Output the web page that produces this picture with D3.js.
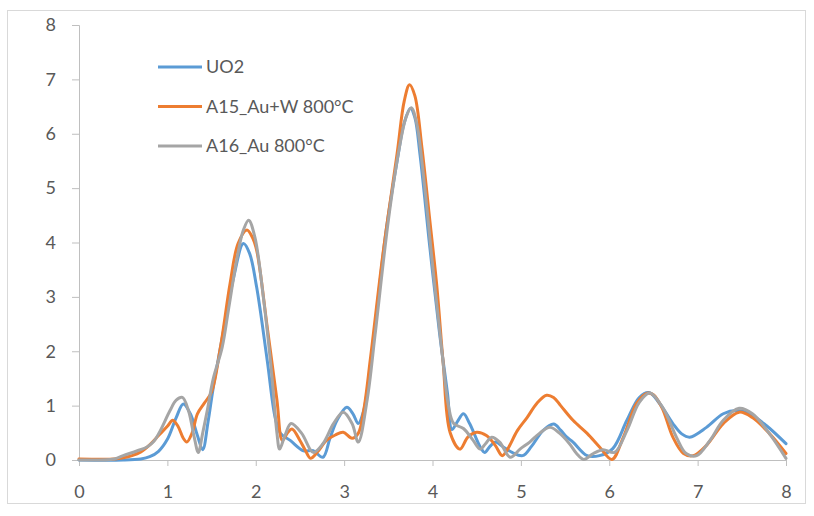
<!DOCTYPE html>
<html>
<head>
<meta charset="utf-8">
<script src="https://cdn.jsdelivr.net/npm/d3@7"></script>
<style>
  body { margin: 0; background: #fff; }
  svg text { font-family: Lato, "Liberation Sans", sans-serif; fill: #595959; }
</style>
</head>
<body>
<div id="chart"></div>
<script>
// [r, value] pairs
const uo2 = [[0,0],[0.5,0],[0.7,0.02],[0.8,0.06],[0.9,0.16],[1.0,0.38],[1.1,0.78],[1.18,1.03],[1.26,0.85],[1.34,0.45],[1.40,0.19],[1.46,0.7],[1.52,1.34],[1.63,2.33],[1.75,3.36],[1.86,3.98],[1.93,3.8],[2.01,3.18],[2.13,1.83],[2.22,0.78],[2.28,0.49],[2.39,0.36],[2.54,0.17],[2.65,0.17],[2.76,0.05],[2.84,0.4],[2.92,0.73],[3.03,0.97],[3.1,0.85],[3.16,0.67],[3.22,0.9],[3.29,1.6],[3.38,2.9],[3.48,4.28],[3.6,5.5],[3.68,6.2],[3.75,6.47],[3.8,6.3],[3.86,5.6],[3.97,3.91],[4.08,2.33],[4.17,1.22],[4.22,0.56],[4.28,0.7],[4.35,0.85],[4.42,0.67],[4.54,0.24],[4.59,0.14],[4.65,0.25],[4.71,0.33],[4.8,0.24],[4.9,0.14],[5.02,0.08],[5.12,0.25],[5.25,0.54],[5.37,0.66],[5.45,0.55],[5.52,0.42],[5.59,0.33],[5.75,0.08],[5.89,0.08],[6.04,0.21],[6.2,0.73],[6.34,1.15],[6.45,1.24],[6.57,1.04],[6.72,0.67],[6.82,0.48],[6.91,0.42],[7.1,0.6],[7.29,0.85],[7.44,0.91],[7.59,0.85],[7.78,0.63],[8,0.3]]

const a15 = [[0,0.02],[0.4,0.02],[0.5,0.04],[0.6,0.08],[0.7,0.15],[0.8,0.28],[0.9,0.45],[1.0,0.62],[1.06,0.73],[1.12,0.62],[1.18,0.4],[1.22,0.33],[1.28,0.5],[1.34,0.85],[1.42,1.05],[1.5,1.25],[1.6,2.07],[1.71,3.25],[1.8,3.98],[1.9,4.23],[1.96,4.1],[2.01,3.86],[2.13,2.44],[2.24,1.1],[2.3,0.36],[2.36,0.5],[2.41,0.57],[2.5,0.36],[2.56,0.18],[2.62,0.03],[2.7,0.15],[2.8,0.36],[2.9,0.46],[2.99,0.51],[3.09,0.4],[3.16,0.49],[3.22,0.9],[3.3,1.9],[3.44,3.8],[3.6,5.64],[3.68,6.6],[3.74,6.9],[3.8,6.7],[3.88,5.75],[3.97,4.4],[4.05,3.18],[4.12,1.8],[4.2,0.5],[4.31,0.2],[4.4,0.42],[4.5,0.51],[4.61,0.45],[4.71,0.27],[4.79,0.08],[4.85,0.2],[4.96,0.54],[5.07,0.78],[5.18,1.04],[5.29,1.19],[5.37,1.15],[5.45,1.0],[5.59,0.73],[5.75,0.49],[5.89,0.24],[6.03,0.01],[6.16,0.42],[6.31,1.04],[6.43,1.23],[6.5,1.2],[6.6,0.95],[6.72,0.42],[6.84,0.12],[6.95,0.08],[7.1,0.27],[7.29,0.67],[7.47,0.88],[7.62,0.78],[7.81,0.49],[8,0.12]]

const a16 = [[0,0],[0.4,0.02],[0.5,0.08],[0.66,0.17],[0.77,0.24],[0.85,0.35],[0.92,0.54],[1.03,0.91],[1.1,1.1],[1.17,1.15],[1.24,0.9],[1.3,0.45],[1.35,0.14],[1.4,0.5],[1.45,0.9],[1.52,1.5],[1.62,2.07],[1.69,2.75],[1.79,3.73],[1.86,4.23],[1.92,4.41],[1.99,4.1],[2.09,2.94],[2.18,1.59],[2.24,0.49],[2.27,0.2],[2.33,0.45],[2.4,0.67],[2.52,0.49],[2.65,0.14],[2.76,0.3],[2.88,0.67],[2.99,0.88],[3.09,0.67],[3.16,0.33],[3.26,1.1],[3.35,2.3],[3.5,4.4],[3.62,5.7],[3.7,6.3],[3.76,6.48],[3.82,6.2],[3.9,5.2],[4.0,3.6],[4.1,2.1],[4.18,1.0],[4.24,0.67],[4.35,0.58],[4.46,0.36],[4.54,0.2],[4.6,0.3],[4.67,0.42],[4.76,0.33],[4.88,0.05],[4.99,0.2],[5.1,0.33],[5.21,0.49],[5.33,0.6],[5.44,0.49],[5.55,0.3],[5.63,0.12],[5.71,0.01],[5.82,0.12],[5.93,0.19],[6.06,0.14],[6.2,0.54],[6.34,1.06],[6.46,1.23],[6.61,0.95],[6.76,0.42],[6.87,0.12],[6.99,0.08],[7.14,0.36],[7.29,0.73],[7.47,0.95],[7.62,0.85],[7.81,0.49],[8,0.03]]

const seriesNames = ['UO2', 'A15_Au+W 800°C', 'A16_Au 800°C']
const seriesColors = ['#5B9BD5', '#ED7D31', '#A5A5A5']
const xTicks = [0,1,2,3,4,5,6,7,8]
const yTicks = [0,1,2,3,4,5,6,7,8]

const W = 814, H = 516
const margin = ({top: 25, right: 28, bottom: 56, left: 79})

let svg = d3.select('#chart').append('svg')
	.attr('width', W)
	.attr('height', H)

svg.append('rect')
	.attr('x', 7.5).attr('y', 10.5)
	.attr('width', 798).attr('height', 493)
	.attr('fill', 'none')
	.attr('stroke', '#d9d9d9')

let xScale = d3.scaleLinear()
	.domain([0, 8])
	.range([margin.left, W - margin.right])

let yScale = d3.scaleLinear()
	.domain([0, 8])
	.range([H - margin.bottom, margin.top])

let xAxis = d3.axisBottom(xScale)
	.tickValues(xTicks)
	.tickSize(6)
	.tickPadding(19)
	.tickFormat(d3.format('d'))

let yAxis = d3.axisLeft(yScale)
	.tickValues(yTicks)
	.tickSize(7)
	.tickPadding(16)
	.tickFormat(d3.format('d'))

let gx = svg.append('g')
	.attr('class', 'x-axis')
	.attr('transform', `translate(0,${yScale(0)})`)
	.call(xAxis)

let gy = svg.append('g')
	.attr('class', 'y-axis')
	.attr('transform', `translate(${xScale(0)},0)`)
	.call(yAxis)

svg.selectAll('.domain, .tick line').attr('stroke', '#bfbfbf')
svg.selectAll('.tick text')
	.attr('font-size', 18)
	.attr('fill', '#595959')
	.style('font-family', 'Lato, "Liberation Sans", sans-serif')

let line = d3.line()
	.x(d => xScale(d[0]))
	.y(d => yScale(d[1]))
	.curve(d3.curveCatmullRom.alpha(0.5))

const allSeries = [uo2, a15, a16]

svg.selectAll('.series')
	.data(allSeries)
	.enter().append('path')
	.attr('class', 'series')
	.attr('d', line)
	.attr('fill', 'none')
	.attr('stroke', (d, i) => seriesColors[i])
	.attr('stroke-width', 3)
	.attr('stroke-linejoin', 'round')
	.attr('stroke-linecap', 'round')

// legend
let legend = svg.append('g')
	.attr('transform', 'translate(158,67)')

let item = legend.selectAll('g')
	.data(seriesNames)
	.enter().append('g')
	.attr('transform', (d, i) => `translate(0,${i * 39.5})`)

item.append('line')
	.attr('x1', 0).attr('x2', 44)
	.attr('stroke', (d, i) => seriesColors[i])
	.attr('stroke-width', 3)

item.append('text')
	.attr('x', 48)
	.attr('dy', '0.35em')
	.attr('font-size', 18)
	.text(d => d)
</script>
</body>
</html>
